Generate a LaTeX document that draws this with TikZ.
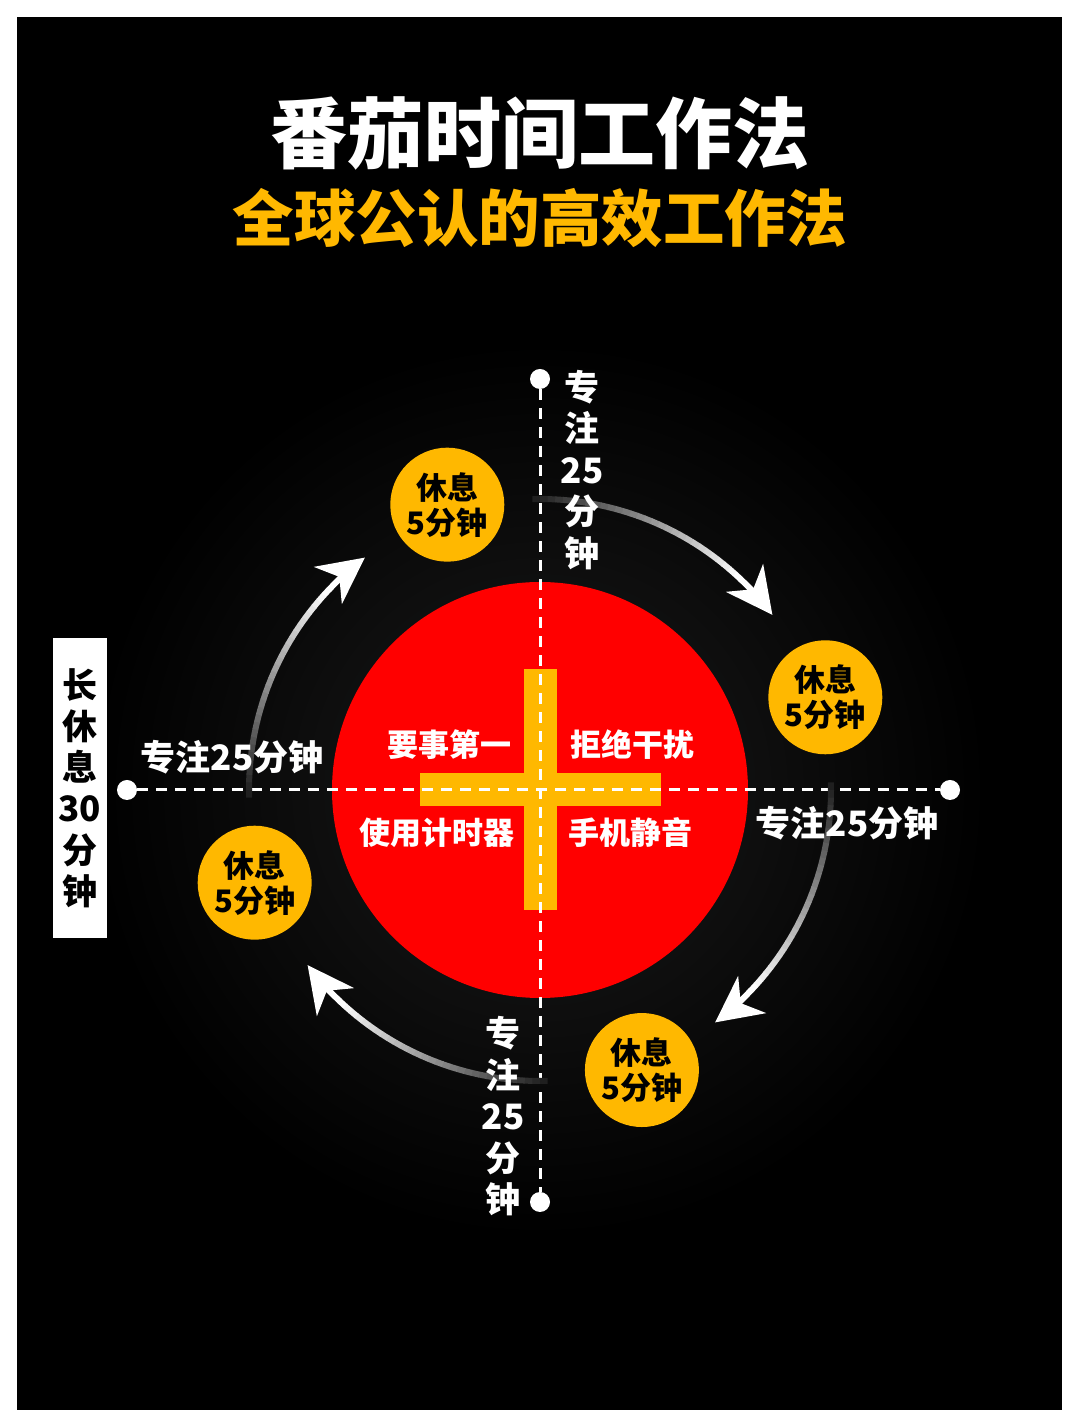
\documentclass[tikz,border=0pt]{standalone}
\usepackage{fontspec}
\setmainfont{Noto Sans CJK SC}
\usepackage{tikz}
\usetikzlibrary{arrows.meta, positioning, calc}
\definecolor{tmRed}{HTML}{FF0000}
\definecolor{tmGold}{HTML}{FFB800}
\definecolor{tmGlow}{HTML}{2A2F38}

\begin{document}
\begin{tikzpicture}[
  x=1pt, y=1pt, font=\bfseries,
  dot/.style={circle, fill=white, inner sep=0pt, minimum size=20pt},
  axis/.style={draw=white, line width=3pt, dash pattern=on 11pt off 8pt},
  rest/.style={circle, fill=tmGold, inner sep=0pt, minimum size=114pt, align=center,
               text=black, font=\bfseries\fontsize{31}{35}\selectfont},
  focus/.style={text=white, inner sep=0pt, align=center, font=\bfseries\fontsize{35}{41.5}\selectfont},
  rule/.style={text=white, inner sep=0pt, font=\bfseries\fontsize{31}{36}\selectfont},
  seg/.style={line width=6pt},
  arr/.style={draw=white, line width=6pt, -{Stealth[length=46pt, width=46pt, inset=14pt]}},
]
% frame
\fill[white] (0,0) rectangle (1080,1428);
\fill[black] (17,18) rectangle (1062,1411);
\coordinate (O) at (540,638);
\foreach \k in {0,...,14}
  \fill[tmGlow, opacity=0.035] (O) circle ({440-\k*16});

% title
\node[text=white, font=\bfseries\fontsize{77}{80}\selectfont] (title) at (540,1295) {番茄时间工作法};
\node[text=tmGold, font=\bfseries\fontsize{61.5}{66}\selectfont] (subtitle) at (540,1210) {全球公认的高效工作法};

% tomato and cross
\fill[tmRed] (O) circle (208);
\fill[tmGold] ($(O)+(-16.5,-120.5)$) rectangle ($(O)+(16.5,120.5)$);
\fill[tmGold] ($(O)+(-120.5,-16.5)$) rectangle ($(O)+(120.5,16.5)$);

% axes
\node[dot] (dTop) at (540,1049) {};
\node[dot] (dBot) at (540,226) {};
\node[dot] (dLeft) at (127,638) {};
\node[dot] (dRight) at (950,638) {};
\draw[axis] (dTop) -- (dBot);
\draw[axis] (dLeft) -- (dRight);

% four rules
\node[rule] (first) at (449,683) {要事第一};
\node[rule] (noint) at (632,683) {拒绝干扰};
\node[rule] (timer) at (437,595) {使用计时器};
\node[rule] (mute) at (630,595) {手机静音};

% cycle arrows
\foreach \q in {0,90,180,270}{
  \foreach \i in {0,...,29}{
    \pgfmathsetmacro{\aa}{91.5-\q-\i*1.5}
    \pgfmathtruncatemacro{\lv}{12+\i*3}
    \draw[seg, draw=white!\lv!black] ($(O)+(\aa:291)$) arc[start angle=\aa, delta angle=-1.6, radius=291];
  }
  \draw[arr] ($(O)+(46.5-\q:291)$) arc[start angle=46.5-\q, end angle=37-\q, radius=291];
}

% focus labels
\node[focus] (fTop) at (582,958) {专\\注\\25\\分\\钟};
\node[focus] (fBot) at (503,311.5) {专\\注\\25\\分\\钟};
\node[focus] (fLeft) at (232,671) {专注25分钟};
\node[focus] (fRight) at (847,605) {专注25分钟};

% breaks
\node[rest] (r1) at ($(O)+(108:300)$) {休息\\5分钟};
\node[rest] (r2) at ($(O)+(18:300)$) {休息\\5分钟};
\node[rest] (r3) at ($(O)+(-70:298)$) {休息\\5分钟};
\node[rest] (r4) at ($(O)+(198:300)$) {休息\\5分钟};

\node[fill=white, text=black, minimum width=54pt, minimum height=300pt, inner sep=0pt, align=center,
      font=\bfseries\fontsize{35}{41.2}\selectfont] (longbreak) at (80,640) {长\\休\\息\\30\\分\\钟};
\end{tikzpicture}
\end{document}
